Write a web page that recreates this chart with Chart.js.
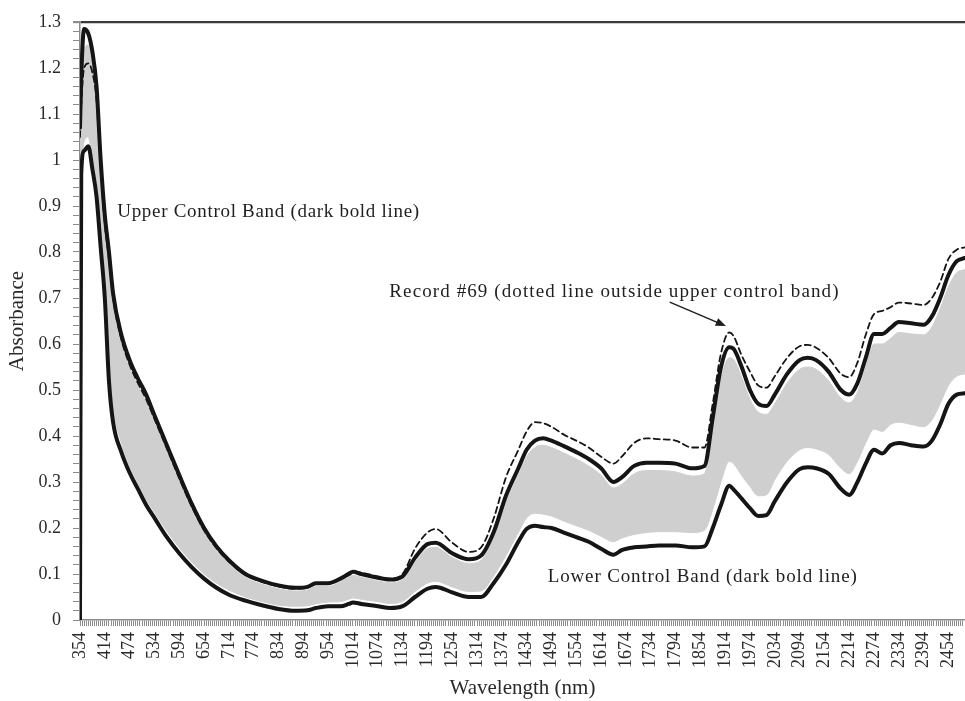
<!DOCTYPE html>
<html>
<head>
<meta charset="utf-8">
<script src="https://cdn.jsdelivr.net/npm/chart.js@4.4.1/dist/chart.umd.min.js"></script>
<style>
  html, body { margin: 0; padding: 0; background: #fff; }
  canvas { display: block; }
</style>
</head>
<body>
<canvas id="spectra" width="965" height="701"></canvas>
<script>
// Wavelength grid (nm) shared by every spectrum below
const wavelengths = [
  354, 357, 364, 374, 384, 394, 404, 414, 424, 434,
  454, 474, 494, 514, 534, 564, 594, 624, 654, 684,
  714, 754, 794, 834, 874, 904, 924, 954, 984, 1004,
  1014, 1034, 1074, 1104, 1134, 1164, 1194, 1214, 1254, 1294,
  1324, 1354, 1384, 1414, 1434, 1454, 1474, 1494, 1524, 1554,
  1584, 1614, 1644, 1664, 1694, 1724, 1754, 1794, 1834, 1864,
  1884, 1904, 1924, 1934, 1954, 1974, 1994, 2014, 2034, 2064,
  2094, 2114, 2134, 2164, 2194, 2214, 2234, 2254, 2274, 2294,
  2314, 2334, 2364, 2394, 2414, 2434, 2454, 2474, 2494
];

// Upper control band (absorbance)
const upperBand = [
  1.07, 1.18, 1.285, 1.275, 1.235, 1.16, 1.00, 0.88, 0.80, 0.71,
  0.62, 0.565, 0.525, 0.49, 0.445, 0.38, 0.315, 0.253, 0.2, 0.16,
  0.13, 0.1, 0.085, 0.075, 0.07, 0.072, 0.08, 0.08, 0.09, 0.10,
  0.105, 0.10, 0.092, 0.088, 0.095, 0.135, 0.165, 0.168, 0.145, 0.132,
  0.14, 0.19, 0.27, 0.33, 0.37, 0.39, 0.395, 0.39, 0.378, 0.365,
  0.35, 0.33, 0.30, 0.31, 0.335, 0.342, 0.342, 0.34, 0.33, 0.335,
  0.44, 0.55, 0.593, 0.59, 0.55, 0.50, 0.47, 0.465, 0.49, 0.535,
  0.565, 0.57, 0.565, 0.54, 0.50, 0.49, 0.515, 0.57, 0.622, 0.622,
  0.635, 0.648, 0.645, 0.642, 0.66, 0.70, 0.75, 0.78, 0.787
];

// Lower control band (absorbance)
const lowerBand = [
  0.0, 0.97, 1.02, 1.03, 0.98, 0.92, 0.81, 0.70, 0.52, 0.43,
  0.365, 0.32, 0.285, 0.25, 0.222, 0.18, 0.145, 0.115, 0.09, 0.07,
  0.055, 0.042, 0.032, 0.024, 0.02, 0.021, 0.026, 0.03, 0.03, 0.035,
  0.038, 0.035, 0.03, 0.026, 0.03, 0.05, 0.068, 0.072, 0.06, 0.05,
  0.05, 0.08, 0.12, 0.17, 0.198, 0.205, 0.202, 0.2, 0.19, 0.18,
  0.17, 0.155, 0.142, 0.152, 0.158, 0.16, 0.162, 0.162, 0.158, 0.16,
  0.2, 0.25, 0.292, 0.284, 0.264, 0.243, 0.226, 0.228, 0.258, 0.3,
  0.328, 0.332, 0.33, 0.318, 0.285, 0.272, 0.3, 0.34, 0.37, 0.362,
  0.38, 0.385, 0.38, 0.377, 0.39, 0.425, 0.47, 0.49, 0.493
];

// Record #69
const record69 = [
  1.05, 1.12, 1.20, 1.21, 1.19, 1.13, 0.98, 0.86, 0.785, 0.70,
  0.61, 0.555, 0.515, 0.48, 0.437, 0.373, 0.308, 0.247, 0.195, 0.156,
  0.127, 0.098, 0.083, 0.073, 0.068, 0.07, 0.078, 0.08, 0.092, 0.103,
  0.106, 0.103, 0.095, 0.09, 0.10, 0.155, 0.19, 0.198, 0.168, 0.148,
  0.158, 0.22, 0.31, 0.37, 0.41, 0.43, 0.428, 0.42, 0.403, 0.39,
  0.375, 0.355, 0.34, 0.355, 0.385, 0.395, 0.393, 0.39, 0.375, 0.375,
  0.47, 0.58, 0.625, 0.618, 0.575, 0.54, 0.51, 0.505, 0.53, 0.57,
  0.595, 0.598, 0.592, 0.57, 0.535, 0.528, 0.56, 0.62, 0.665, 0.672,
  0.68, 0.69, 0.688, 0.685, 0.70, 0.735, 0.785, 0.805, 0.81
];

// Envelope of the remaining in-control records (upper and lower edge)
const recordsTop = [
  1.0, 1.1, 1.24, 1.25, 1.21, 1.14, 0.98, 0.86, 0.78, 0.695,
  0.605, 0.55, 0.51, 0.475, 0.432, 0.368, 0.303, 0.242, 0.19, 0.151,
  0.122, 0.093, 0.078, 0.068, 0.063, 0.065, 0.073, 0.073, 0.083, 0.093,
  0.097, 0.093, 0.085, 0.081, 0.087, 0.125, 0.155, 0.158, 0.136, 0.123,
  0.13, 0.178, 0.255, 0.315, 0.355, 0.375, 0.38, 0.375, 0.363, 0.35,
  0.335, 0.315, 0.287, 0.295, 0.318, 0.325, 0.325, 0.322, 0.313, 0.318,
  0.42, 0.525, 0.57, 0.567, 0.528, 0.48, 0.452, 0.447, 0.47, 0.515,
  0.545, 0.55, 0.545, 0.52, 0.482, 0.472, 0.495, 0.55, 0.6, 0.6,
  0.612, 0.625, 0.622, 0.62, 0.637, 0.677, 0.725, 0.755, 0.762
];
const recordsBottom = [
  0.95, 0.98, 1.04, 1.05, 0.99, 0.94, 0.86, 0.74, 0.56, 0.46,
  0.385, 0.335, 0.298, 0.262, 0.234, 0.193, 0.157, 0.126, 0.1, 0.08,
  0.065, 0.05, 0.04, 0.032, 0.03, 0.031, 0.035, 0.039, 0.04, 0.045,
  0.048, 0.045, 0.04, 0.036, 0.04, 0.062, 0.08, 0.084, 0.072, 0.062,
  0.063, 0.095, 0.14, 0.19, 0.222, 0.232, 0.23, 0.226, 0.215, 0.205,
  0.195, 0.182, 0.17, 0.178, 0.186, 0.19, 0.192, 0.192, 0.19, 0.195,
  0.24, 0.3, 0.345, 0.34, 0.314, 0.29, 0.27, 0.272, 0.305, 0.345,
  0.37, 0.375, 0.372, 0.36, 0.33, 0.318, 0.345, 0.385, 0.415, 0.41,
  0.425, 0.43, 0.425, 0.42, 0.435, 0.47, 0.51, 0.53, 0.535
];

// Labelled axis ticks
const xLabelValues = [
  354, 414, 474, 534, 594, 654, 714, 774, 834, 894, 954, 1014,
  1074, 1134, 1194, 1254, 1314, 1374, 1434, 1494, 1554, 1614, 1674, 1734,
  1794, 1854, 1914, 1974, 2034, 2094, 2154, 2214, 2274, 2334, 2394, 2454
];
const yLabelValues = [0, 0.1, 0.2, 0.3, 0.4, 0.5, 0.6, 0.7, 0.8, 0.9, 1, 1.1, 1.2, 1.3];

// Text notes placed in data units (wavelength, absorbance)
const notes = [
  { text: 'Upper Control Band (dark bold line)', x: 444, y: 0.887, spacing: 0.7 },
  { text: 'Record #69 (dotted line outside upper control band)', x: 1102, y: 0.713, spacing: 1.1 },
  { text: 'Lower Control Band (dark bold line)', x: 1485, y: 0.0935, spacing: 0.85 }
];
const pointer = { from: [1780, 0.691], to: [1916, 0.639] };

const X_MIN = 354, X_MAX = 2494, Y_MAX = 1.3;
const SERIF = "'Liberation Serif', 'DejaVu Serif', serif";

// minor tick marks: every 5 nm along x, every 0.02 along y
const xMinor = [];
for (let w = X_MIN; w <= X_MAX; w += 5) xMinor.push(w);
const yMinor = [];
for (let i = 0; i <= 65; i++) yMinor.push(Math.round(i * 2) / 100);

const pts = arr => wavelengths.map((w, i) => ({ x: w, y: arr[i] }));
const isXLabel = v => xLabelValues.includes(v);
const isYLabel = v => yLabelValues.some(l => Math.abs(l - v) < 1e-6);

const notesPlugin = {
  id: 'notes',
  afterDatasetsDraw(chart) {
    const { ctx, scales: { x, y } } = chart;
    ctx.save();
    ctx.fillStyle = '#1e1e1e';
    ctx.font = '19px ' + SERIF;
    ctx.textBaseline = 'middle';
    ctx.textAlign = 'left';
    notes.forEach(n => {
      ctx.letterSpacing = n.spacing + 'px';
      ctx.fillText(n.text, x.getPixelForValue(n.x), y.getPixelForValue(n.y));
    });
    // arrow to the record's peak
    const x0 = x.getPixelForValue(pointer.from[0]), y0 = y.getPixelForValue(pointer.from[1]);
    const x1 = x.getPixelForValue(pointer.to[0]), y1 = y.getPixelForValue(pointer.to[1]);
    const ang = Math.atan2(y1 - y0, x1 - x0);
    const head = 11;
    ctx.strokeStyle = '#1e1e1e';
    ctx.lineWidth = 1.5;
    ctx.beginPath();
    ctx.moveTo(x0, y0);
    ctx.lineTo(x1 - Math.cos(ang) * head * 0.8, y1 - Math.sin(ang) * head * 0.8);
    ctx.stroke();
    ctx.beginPath();
    ctx.moveTo(x1, y1);
    ctx.lineTo(x1 - head * Math.cos(ang - 0.38), y1 - head * Math.sin(ang - 0.38));
    ctx.lineTo(x1 - head * Math.cos(ang + 0.38), y1 - head * Math.sin(ang + 0.38));
    ctx.closePath();
    ctx.fill();
    ctx.restore();
  }
};

Chart.defaults.font.family = SERIF;
Chart.defaults.color = '#2a2a2a';

new Chart(document.getElementById('spectra'), {
  type: 'line',
  data: {
    datasets: [
      { label: 'Upper control band', data: pts(upperBand), borderColor: '#151515', borderWidth: 4 },
      { label: 'Lower control band', data: pts(lowerBand), borderColor: '#151515', borderWidth: 4 },
      { label: 'Record #69', data: pts(record69), borderColor: '#151515', borderWidth: 1.8, borderDash: [6, 4] },
      { label: 'Records (top)', data: pts(recordsTop), borderColor: '#cfcfcf', borderWidth: 1,
        backgroundColor: '#cfcfcf', fill: '+1' },
      { label: 'Records (bottom)', data: pts(recordsBottom), borderColor: '#cfcfcf', borderWidth: 1, fill: false }
    ]
  },
  options: {
    responsive: false,
    animation: false,
    events: [],
    layout: { padding: { top: 22, right: 0, bottom: 0, left: 0 } },
    elements: {
      point: { radius: 0 },
      line: { cubicInterpolationMode: 'monotone', borderJoinStyle: 'round', borderCapStyle: 'round' }
    },
    plugins: { legend: { display: false }, tooltip: { enabled: false } },
    scales: {
      x: {
        type: 'linear',
        min: X_MIN,
        max: X_MAX,
        afterBuildTicks: s => { s.ticks = xMinor.map(v => ({ value: v })); },
        afterFit: s => { s.height = 81; s.paddingLeft = 0; s.paddingRight = 0; },
        ticks: {
          autoSkip: false,
          minRotation: 90,
          maxRotation: 90,
          padding: 6,
          font: { size: 18 },
          callback: v => (isXLabel(v) ? String(v) : '')
        },
        grid: { drawOnChartArea: false, tickLength: 6, color: '#8c8c8c', lineWidth: 1 },
        border: { color: '#8c8c8c', width: 1.5 },
        title: { display: true, text: 'Wavelength (nm)', font: { size: 21 }, padding: { top: 0, bottom: 0 } }
      },
      y: {
        min: 0,
        max: Y_MAX,
        afterBuildTicks: s => { s.ticks = yMinor.map(v => ({ value: v })); },
        afterFit: s => { s.width = 80; s.paddingTop = 0; s.paddingBottom = 0; },
        ticks: {
          autoSkip: false,
          padding: 12,
          font: { size: 18 },
          callback: v => (isYLabel(v) ? String(Number(v.toFixed(1))) : '')
        },
        grid: {
          drawOnChartArea: true,
          tickLength: 7,
          tickColor: '#8c8c8c',
          color: c => (Math.abs(c.tick.value - Y_MAX) < 1e-6 ? '#3a3a3a' : 'rgba(0,0,0,0)'),
          lineWidth: c => (Math.abs(c.tick.value - Y_MAX) < 1e-6 ? 2.2 : 1)
        },
        border: { color: '#8c8c8c', width: 1.5 },
        title: { display: true, text: 'Absorbance', font: { size: 21 }, padding: { top: 5, bottom: 0 } }
      }
    }
  },
  plugins: [notesPlugin]
});
</script>
</body>
</html>
